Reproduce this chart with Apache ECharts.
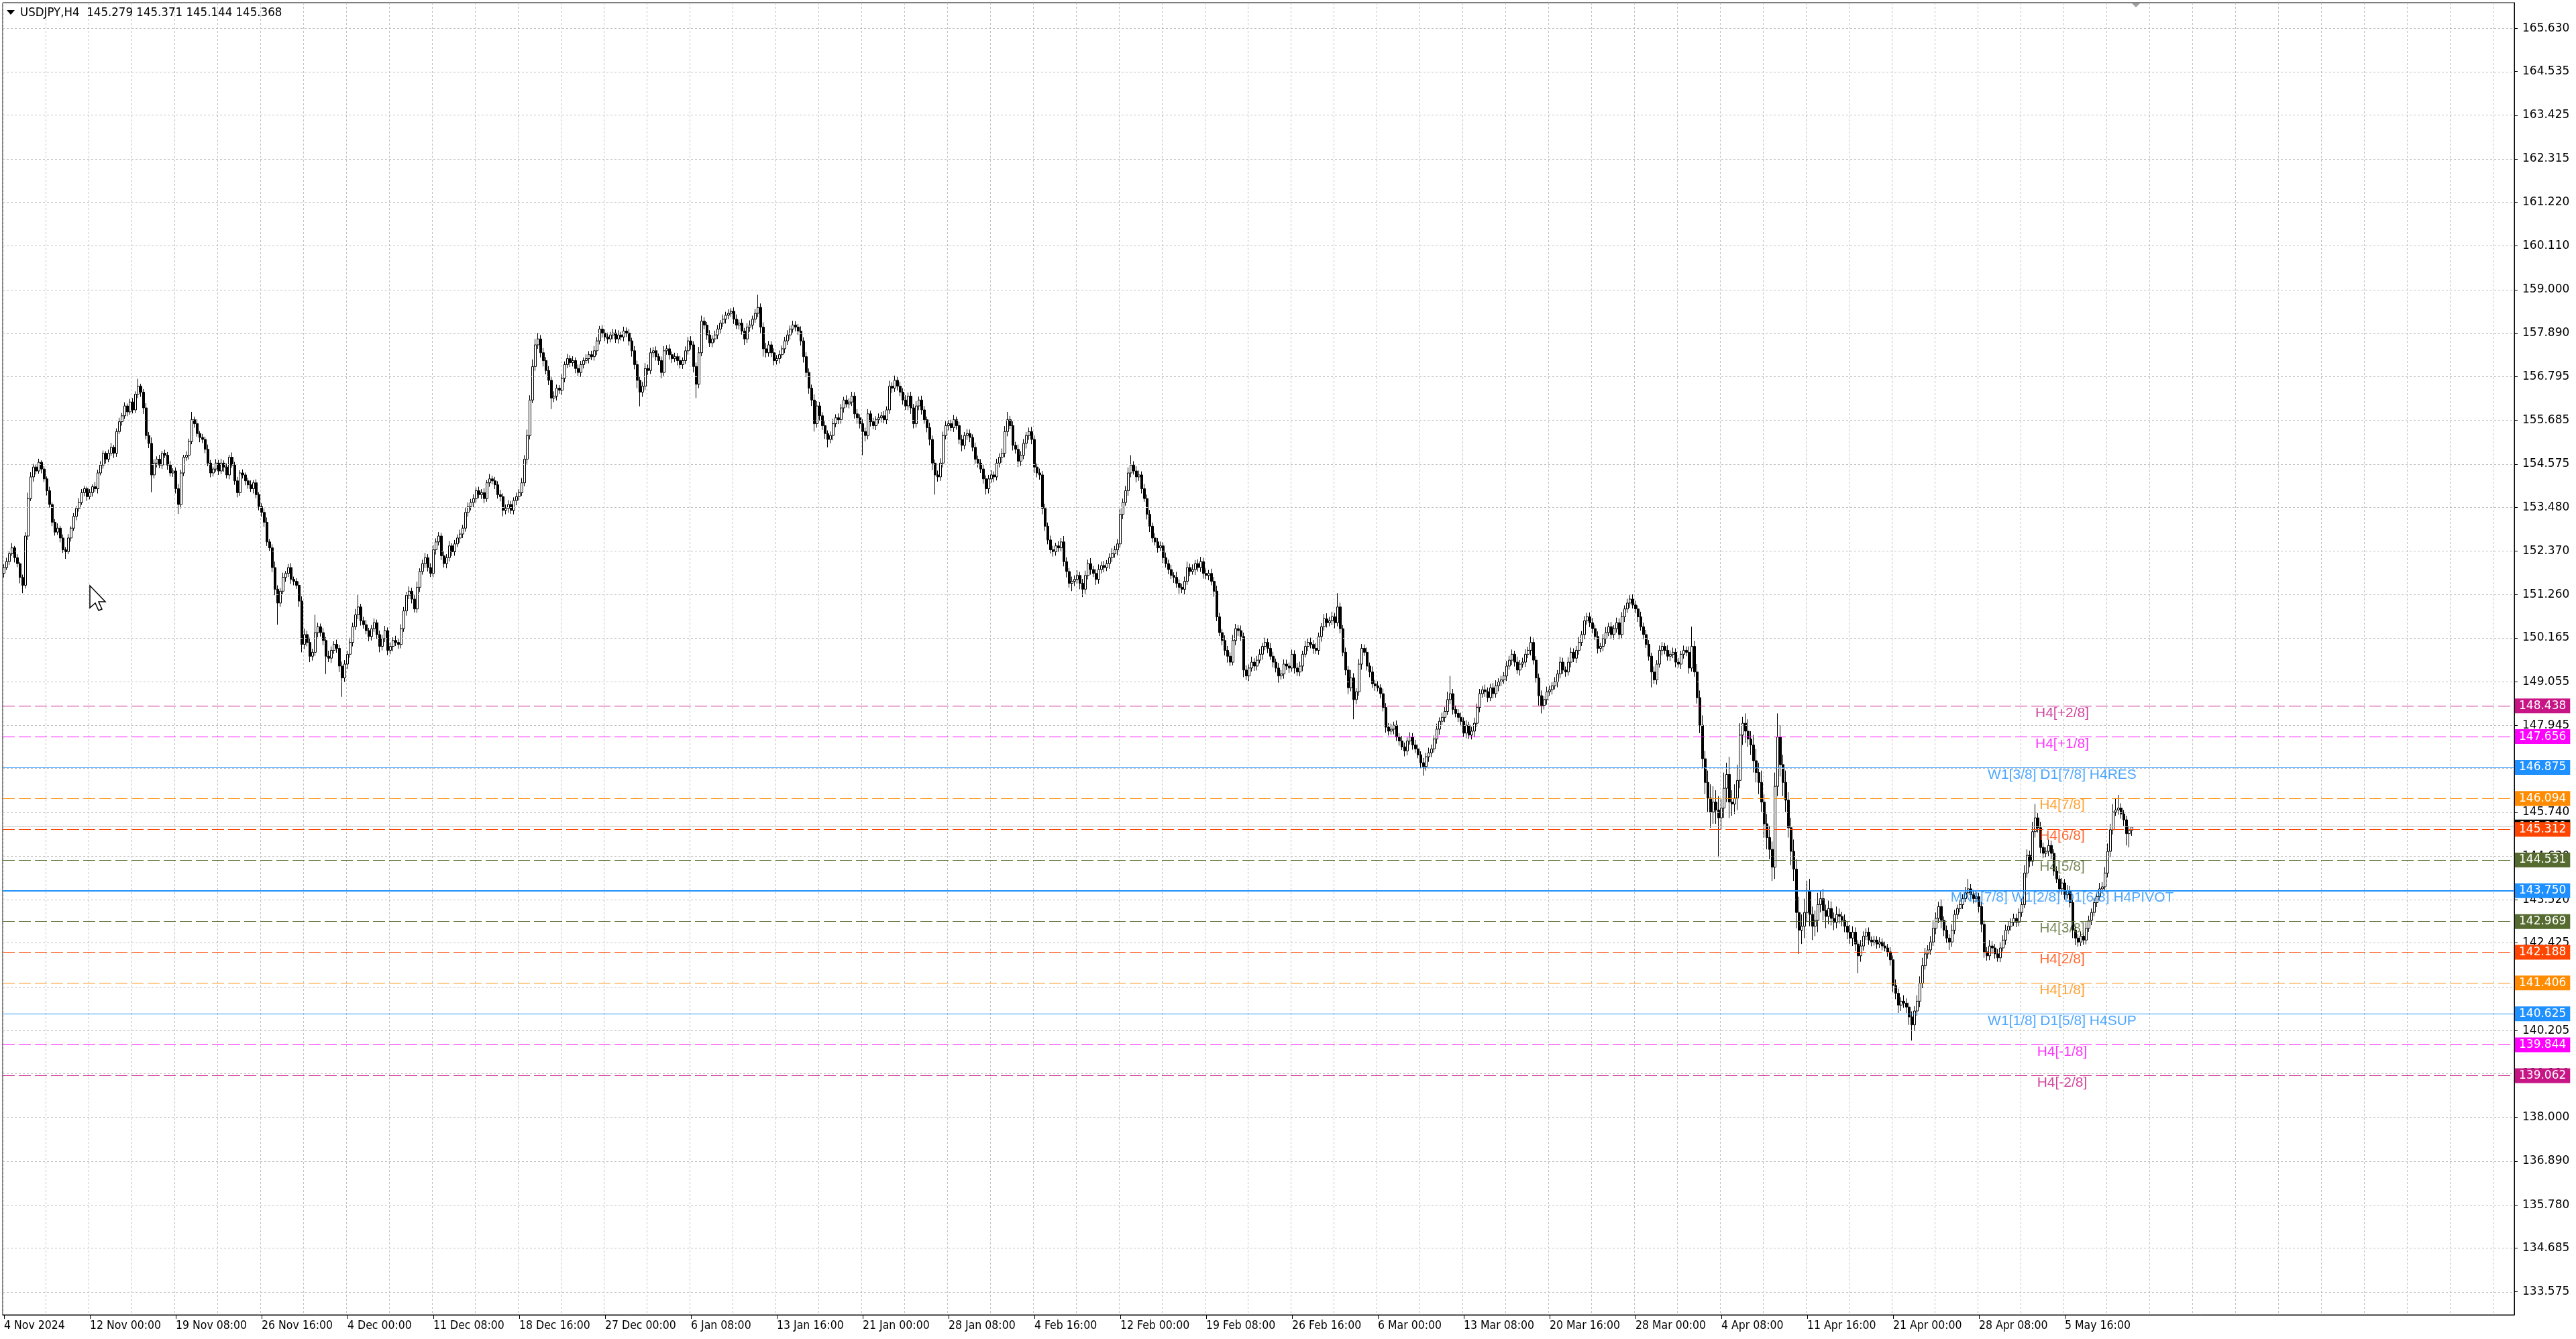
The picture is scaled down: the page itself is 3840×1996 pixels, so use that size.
<!DOCTYPE html>
<html><head><meta charset="utf-8">
<script src="https://cdn.jsdelivr.net/npm/echarts@6/dist/echarts.min.js"></script>
<style>html,body{margin:0;padding:0;background:#fff;}#c{width:3840px;height:1996px;}</style>
</head><body><div id="c"></div><script>
// ---------------- DATA ----------------
const symbolName = 'USDJPY';
const timeframe = 'H4';
const firstOpen = 151.80;
// H4 closes, one per bar (4 Nov 2024 ... 8 May 2025)
const closes = [
151.95,152.10,152.30,152.45,152.20,152.05,151.70,151.50,152.75,153.70,154.25,154.50,154.40,154.62,154.45,154.20,
153.90,153.55,153.10,152.85,152.95,152.70,152.40,152.35,152.70,152.95,153.25,153.45,153.60,153.85,153.95,153.75,
153.85,154.00,153.95,154.35,154.55,154.85,154.70,154.85,155.00,154.85,155.40,155.65,155.80,156.05,155.90,156.15,
155.95,156.35,156.55,156.40,156.00,155.30,155.10,154.30,154.60,154.70,154.55,154.85,154.80,154.55,154.35,154.40,
153.95,153.55,154.35,154.75,154.80,155.15,155.70,155.60,155.35,155.25,155.20,154.95,154.60,154.35,154.45,154.60,
154.40,154.60,154.50,154.30,154.75,154.55,154.15,153.85,154.35,154.30,154.15,154.05,153.95,154.10,153.80,153.50,
153.35,153.10,152.60,152.45,151.95,151.40,151.05,151.35,151.70,151.80,151.95,151.65,151.60,151.50,151.10,150.00,
150.25,150.05,149.70,149.80,150.30,150.45,150.30,150.10,149.70,149.65,149.85,150.00,149.90,149.45,149.15,149.50,
149.75,150.05,150.45,150.75,150.95,150.60,150.50,150.35,150.20,150.40,150.55,150.25,149.95,150.15,150.35,149.85,
149.95,150.10,150.05,150.00,150.40,150.85,151.25,151.35,151.15,150.90,151.45,151.85,152.05,152.20,151.95,151.80,
152.40,152.60,152.75,152.25,152.05,152.20,152.50,152.35,152.55,152.70,152.80,152.95,153.35,153.50,153.60,153.70,
153.90,153.80,153.85,153.70,154.10,154.20,154.15,154.05,153.80,153.75,153.40,153.45,153.55,153.40,153.65,153.75,
153.85,154.10,154.70,155.30,156.20,157.05,157.60,157.75,157.40,157.20,156.95,156.70,156.25,156.30,156.50,156.45,
156.75,157.10,157.25,157.15,157.20,157.00,156.90,157.10,157.20,157.25,157.35,157.30,157.45,157.70,158.00,157.90,
157.80,157.75,157.85,157.90,157.75,157.85,157.80,157.95,157.90,157.70,157.45,157.10,156.70,156.40,156.55,157.00,
156.95,157.40,157.45,157.30,157.20,156.90,157.45,157.50,157.35,157.25,157.30,157.20,157.10,157.20,157.45,157.70,
157.60,157.05,156.60,157.40,158.20,158.10,157.85,157.65,157.75,157.85,158.00,158.15,158.25,158.35,158.40,158.45,
158.25,158.10,158.15,157.95,157.75,158.05,158.10,158.25,158.40,158.55,158.05,157.50,157.40,157.60,157.40,157.20,
157.25,157.35,157.50,157.70,157.85,158.00,158.10,158.05,157.95,157.70,157.30,156.90,156.50,156.20,155.60,
156.05,155.80,155.55,155.35,155.20,155.30,155.60,155.75,155.70,156.00,156.20,156.10,156.15,156.30,155.85,155.75,
155.60,155.40,155.30,155.85,155.65,155.55,155.70,155.75,155.80,155.70,155.95,156.55,156.50,156.70,156.55,156.40,
156.20,156.05,156.30,156.00,155.60,156.05,156.20,155.95,155.70,155.50,155.20,154.60,154.30,154.25,154.60,155.30,
155.55,155.60,155.50,155.70,155.55,155.20,155.05,155.30,155.35,155.25,155.00,154.70,154.60,154.45,154.20,153.95,
154.20,154.30,154.25,154.60,154.75,154.85,155.40,155.70,155.55,155.05,154.95,154.65,154.80,155.10,155.30,155.40,
155.20,154.50,154.35,154.30,153.45,153.00,152.65,152.40,152.35,152.50,152.45,152.60,152.10,151.85,151.55,151.60,
151.65,151.75,151.55,151.40,151.75,152.05,151.90,151.80,151.65,151.90,152.00,151.95,152.05,152.20,152.30,152.40,
152.55,153.30,153.60,153.90,154.35,154.55,154.40,154.25,154.30,153.95,153.70,153.30,153.00,152.70,152.60,152.45,
152.50,152.20,152.05,151.90,151.75,151.70,151.55,151.45,151.40,151.60,151.95,151.85,151.90,152.05,151.95,152.10,
151.80,151.75,151.80,151.60,151.35,150.70,150.30,150.10,149.85,149.70,149.55,150.10,150.40,150.35,150.20,149.35,
149.20,149.40,149.55,149.45,149.60,149.75,149.95,150.05,149.90,149.70,149.55,149.40,149.20,149.25,149.50,149.45,
149.40,149.75,149.40,149.30,149.45,149.75,149.95,150.05,150.00,149.90,149.85,150.20,150.45,150.65,150.55,150.60,
150.70,150.55,150.95,150.40,149.80,149.35,148.90,149.15,148.60,148.80,149.50,149.90,149.80,149.45,149.30,149.00,
148.95,148.90,148.75,148.40,147.90,147.80,147.85,147.95,147.65,147.55,147.40,147.30,147.55,147.65,147.45,147.35,
147.20,147.00,146.90,147.15,147.25,147.35,147.60,147.85,148.05,148.15,148.30,148.60,148.75,148.35,148.25,148.15,
148.05,147.75,147.95,147.70,147.80,148.00,148.40,148.75,148.85,148.80,148.65,148.90,148.75,148.95,149.05,149.10,
149.20,149.45,149.60,149.75,149.55,149.35,149.50,149.55,149.75,149.85,150.05,149.60,149.15,148.70,148.45,148.60,
148.80,148.85,148.95,149.05,149.25,149.55,149.35,149.30,149.55,149.80,149.65,149.85,150.05,150.25,150.60,150.70,
150.55,150.40,150.20,149.90,149.95,150.15,150.30,150.45,150.25,150.40,150.55,150.25,150.70,150.90,151.05,
151.15,151.00,150.90,150.70,150.45,150.25,150.00,149.70,149.30,149.10,149.50,149.85,149.95,149.85,149.70,149.75,
149.80,149.55,149.50,149.75,149.85,149.80,149.40,149.95,149.30,148.65,147.95,147.10,146.50,146.10,145.75,146.00,
145.80,145.60,145.85,146.35,146.70,146.00,145.95,146.10,146.55,147.70,148.00,147.80,147.60,147.45,147.05,146.75,
146.50,146.00,145.45,145.10,144.80,144.35,146.40,147.65,146.95,146.50,146.05,145.35,144.75,144.30,143.20,142.75,
142.85,143.20,143.75,143.15,142.85,143.00,143.40,143.55,143.25,143.10,143.30,143.05,142.95,143.15,143.10,143.00,
142.85,142.70,142.55,142.70,142.40,142.10,142.35,142.60,142.70,142.50,142.45,142.50,142.40,142.45,142.35,142.30,
142.20,142.00,141.35,141.15,140.85,140.95,140.90,140.80,140.55,140.35,140.70,140.95,141.40,141.85,142.15,142.25,
142.45,142.80,143.05,143.35,143.00,142.75,142.55,142.45,142.75,143.15,143.30,143.40,143.55,143.70,143.80,143.65,
143.55,143.60,143.35,142.90,142.20,142.10,142.35,142.30,142.15,142.05,142.30,142.50,142.75,142.85,142.95,143.05,
142.95,143.20,143.40,144.20,144.65,144.50,145.25,145.60,145.35,144.85,144.70,144.75,144.90,144.70,144.25,144.05,
143.80,143.95,143.65,143.75,143.45,142.75,142.55,142.45,142.60,142.50,142.80,143.00,143.20,143.45,143.60,143.80,
143.85,144.20,144.75,145.30,145.75,145.80,145.85,145.70,145.55,145.20,145.279,145.368
];
// upper wick above the body, in hundredths of a yen
const upperWick = [
8,10,6,12,5,9,4,7,10,15,12,8,6,9,5,7,
6,10,5,8,12,6,9,7,10,5,8,6,11,9,7,5,
9,6,12,8,10,7,5,9,11,6,8,10,7,9,6,8,
10,7,19,6,8,12,9,15,10,7,11,6,9,8,10,7,
9,12,8,6,10,7,20,8,11,6,9,7,12,8,6,10,
8,11,7,9,6,12,8,10,7,9,6,8,11,7,9,6,
8,10,12,7,9,15,10,8,12,6,9,11,7,8,10,12,
15,10,12,9,45,10,8,12,9,14,10,8,12,9,11,10,
9,12,10,15,32,8,10,12,7,9,11,8,10,9,12,8,
10,8,12,9,11,10,8,12,9,10,14,8,10,12,9,11,
12,9,10,8,11,9,12,7,10,9,11,8,12,10,9,11,
8,10,9,11,7,12,8,10,9,12,8,10,11,9,8,10,
9,12,10,15,12,18,15,15,10,12,9,11,10,12,9,8,
10,8,12,9,11,8,10,9,8,11,9,10,12,9,8,10,
9,11,8,10,9,12,8,11,9,10,8,12,10,9,11,14,
10,12,9,11,8,10,12,9,11,8,10,9,12,8,11,10,
12,9,10,15,14,10,8,12,9,11,10,8,12,9,10,8,
10,12,9,11,8,10,12,9,11,32,10,12,15,10,9,11,
9,11,8,10,12,9,11,10,8,12,9,11,10,9,14,
12,10,9,11,8,10,12,9,11,10,8,12,9,11,10,12,
9,11,10,12,8,10,9,11,10,12,9,14,10,12,9,11,
10,12,9,11,10,12,9,11,10,8,12,10,9,11,12,10,
11,9,10,12,8,10,12,9,11,10,8,12,9,10,11,9,
10,12,9,11,10,12,14,20,10,11,9,12,10,11,9,10,
12,10,9,11,10,12,9,11,10,8,12,10,15,11,9,12,
10,13,9,11,12,10,14,9,11,13,10,12,9,11,14,10,
12,15,10,12,14,25,10,12,11,9,12,10,11,9,12,10,
11,9,13,10,12,8,14,10,9,12,15,10,13,9,11,12,
10,13,9,12,11,14,10,9,13,11,10,14,12,9,13,10,
12,9,14,10,11,13,9,12,10,14,11,9,13,10,12,11,
9,12,10,13,11,9,14,10,12,11,13,10,9,12,14,10,
13,10,35,11,9,12,10,20,12,9,13,11,10,12,9,14,
10,12,9,13,11,10,14,9,12,10,13,11,9,12,10,13,
11,9,12,10,13,11,9,14,10,12,11,20,45,12,10,11,
12,10,13,9,11,14,10,12,9,13,11,10,12,14,9,11,
10,13,11,12,9,14,10,11,13,9,15,12,10,11,13,9,
13,11,9,12,10,14,11,9,13,12,10,11,14,9,12,10,
11,12,10,13,9,11,14,10,12,9,13,11,12,9,11,
10,12,11,9,13,10,12,11,9,14,10,12,11,9,13,10,
12,10,11,9,12,10,15,50,14,20,18,25,20,30,35,40,
30,35,25,40,30,45,30,35,40,30,16,25,30,20,25,30,
25,30,20,25,30,20,35,60,30,25,30,20,25,30,25,40,
30,35,25,30,20,25,30,20,25,15,20,18,15,20,15,12,
15,12,18,15,12,10,15,12,10,12,9,11,10,12,9,11,
10,12,11,15,12,10,15,12,11,14,12,15,18,20,15,12,
15,20,15,12,18,10,12,10,15,12,10,12,11,15,25,12,
12,15,10,12,10,12,15,12,10,12,15,12,14,12,10,12,
12,10,15,20,15,12,25,35,12,15,12,10,15,12,10,12,
10,12,10,15,12,10,12,10,12,10,15,12,10,12,10,15,
12,15,20,15,20,30,33,12,10,10,12,0.3
];
// lower wick below the body, in hundredths of a yen
const lowerWick = [
10,6,8,5,12,9,15,20,8,10,6,12,9,7,11,8,
12,8,10,9,7,11,8,18,6,9,7,10,8,6,9,11,
7,10,8,12,6,9,11,8,7,12,9,6,10,8,11,7,
9,8,10,12,15,10,12,44,9,11,8,10,7,12,9,10,
12,24,10,8,9,11,7,10,8,12,9,10,8,11,9,7,
10,8,12,9,11,7,10,12,8,9,11,10,8,12,9,10,
11,12,10,9,12,15,55,10,8,11,9,12,10,9,15,20,
12,10,15,11,9,12,10,12,45,10,12,9,11,15,48,10,
12,9,10,8,11,12,10,9,12,10,8,11,15,10,9,12,
10,12,9,11,10,8,12,10,11,9,10,12,8,11,10,9,
10,12,9,11,10,12,9,11,10,8,12,10,9,11,10,12,
10,9,11,12,8,10,9,11,10,12,15,10,11,9,10,12,
10,8,9,12,10,8,11,10,12,15,10,12,28,10,11,9,
12,10,9,11,10,12,9,11,10,8,12,9,10,11,9,12,
10,12,9,11,10,12,9,11,10,12,15,12,20,36,12,10,
11,9,12,10,11,15,9,10,12,11,9,12,10,11,9,10,
12,15,35,10,9,11,12,10,11,9,10,12,9,11,10,9,
12,10,11,9,15,10,12,11,9,10,15,20,12,10,11,12,
10,12,9,11,10,12,9,11,10,12,15,12,14,15,20,
10,12,11,14,20,10,12,9,11,10,12,9,11,10,12,15,
12,60,15,10,12,9,11,10,12,9,11,10,12,9,11,10,
12,10,11,15,12,10,11,12,10,12,15,18,50,12,10,11,
10,12,9,11,10,12,15,10,11,12,10,12,11,10,12,15,
12,10,13,9,11,14,10,12,9,13,11,15,12,10,13,11,
12,15,11,12,15,12,11,9,12,10,11,9,12,15,11,20,
12,10,15,20,12,10,13,9,14,11,10,12,9,13,11,10,
14,9,12,8,13,11,9,14,10,12,8,13,15,11,9,12,
8,13,10,12,9,14,11,16,10,13,9,12,8,14,10,11,
13,9,12,10,14,11,9,12,13,16,10,8,12,14,11,18,
10,13,9,12,11,8,14,10,12,9,13,11,17,9,12,10,
12,9,14,10,11,13,8,12,10,14,9,11,13,10,12,9,
11,14,9,12,10,13,16,9,50,12,10,14,9,11,13,10,
13,9,12,10,14,11,9,13,10,12,8,14,11,9,12,10,
9,12,23,10,13,11,9,12,14,10,12,9,11,13,10,12,
12,9,13,10,11,14,9,12,10,13,11,9,12,10,14,11,
10,13,9,12,11,10,14,9,12,10,13,11,12,25,20,10,
13,10,12,9,14,11,10,12,9,13,10,12,11,9,12,10,
11,12,9,13,10,12,14,9,11,13,10,12,11,13,10,
12,9,11,13,10,12,9,11,39,10,12,9,13,10,11,12,
10,13,9,12,11,10,14,9,12,15,20,25,30,35,40,30,
35,100,30,25,35,40,30,25,30,20,25,30,20,25,30,25,
30,25,35,30,25,35,30,25,30,35,30,25,35,30,40,60,
35,30,25,30,35,25,30,20,25,30,20,18,20,15,18,15,
15,18,15,20,18,44,15,12,10,12,11,9,12,10,11,9,
12,15,18,15,20,15,12,15,20,40,15,12,15,12,10,12,
12,10,15,12,20,15,12,20,12,10,12,10,11,9,12,10,
12,10,15,20,15,12,11,15,12,10,11,9,12,10,11,9,
12,10,11,9,12,15,12,15,12,15,12,10,12,15,12,10,
12,15,12,10,12,20,18,12,10,12,11,9,12,10,11,9,
12,10,11,15,12,10,12,12,15,30,35,13.5
];
// time-scale labels, one every 32 bars
const xTickLabels = ['4 Nov 2024','12 Nov 00:00','19 Nov 08:00','26 Nov 16:00','4 Dec 00:00','11 Dec 08:00',
 '18 Dec 16:00','27 Dec 00:00','6 Jan 08:00','13 Jan 16:00','21 Jan 00:00','28 Jan 08:00','4 Feb 16:00',
 '12 Feb 00:00','19 Feb 08:00','26 Feb 16:00','6 Mar 00:00','13 Mar 08:00','20 Mar 16:00','28 Mar 00:00',
 '4 Apr 08:00','11 Apr 16:00','21 Apr 00:00','28 Apr 08:00','5 May 16:00'];
// price-scale labels
const yTicks = [165.630,164.535,163.425,162.315,161.220,160.110,159.000,157.890,156.795,155.685,154.575,153.480,
 152.370,151.260,150.165,149.055,147.945,146.850,145.740,144.630,143.520,142.425,141.315,140.205,139.110,
 138.000,136.890,135.780,134.685,133.575];
// Murrey math levels
const levelValues = [148.438,147.656,146.875,146.094,145.312,144.531,143.750,142.969,142.188,141.406,140.625,139.844,139.062];
const levelNames = ['H4[+2/8]','H4[+1/8]','W1[3/8] D1[7/8] H4RES','H4[7/8]','H4[6/8]','H4[5/8]',
 'MN1[7/8] W1[2/8] D1[6/8] H4PIVOT','H4[3/8]','H4[2/8]','H4[1/8]','W1[1/8] D1[5/8] H4SUP','H4[-1/8]','H4[-2/8]'];

// ---------------- STYLE / VIEW ----------------
const levelColors = ['#C71585','#FF00FF','#1E90FF','#FF8C00','#FF4500','#556B2F','#1E90FF','#556B2F','#FF4500','#FF8C00','#1E90FF','#FF00FF','#C71585'];
const levelDashed = [true,true,false,true,true,true,false,true,true,true,false,true,true];
const levelWidth  = [1,1,1,1,1,1,2,1,1,1,1,1,1];
const nSlots = 936;          // visible bar slots incl. empty right margin (4 px each)
const levelLabelBar = 767;   // bar at which the level names are anchored
const yMin = 132.992, yMax = 166.28;
const fCond = "'DejaVu Sans Condensed','DejaVu Sans',sans-serif";
const fAxis = "'DejaVu Sans',sans-serif";
const gridColor = '#c0c0c0';

// ---------------- BUILD ----------------
const ohlc = [];
let prev = firstOpen;
for (let i = 0; i < closes.length; i++) {
  const o = prev, c = closes[i];
  const hi = Math.max(o, c) + (upperWick[i] || 0) / 100;
  const lo = Math.min(o, c) - (lowerWick[i] || 0) / 100;
  ohlc.push([o, c, lo, hi]);
  prev = c;
}
const last = ohlc[ohlc.length - 1];
const titleText = symbolName + ',' + timeframe + '  ' + [last[0], last[3], last[2], last[1]].map(v => v.toFixed(3)).join(' ');
const bid = last[1];
const categories = Array.from({length: nSlots}, (_, i) => String(i));

const levelLines = [{
  yAxis: bid,
  lineStyle: {color: gridColor, type: 'solid', width: 1},
  label: {backgroundColor: '#000', formatter: bid.toFixed(3)}
}].concat(levelValues.map((v, i) => ({
  yAxis: v,
  lineStyle: {color: levelColors[i], type: levelDashed[i] ? [18, 6] : 'solid', width: levelWidth[i]},
  label: {backgroundColor: levelColors[i], formatter: v.toFixed(3)}
})));

const chart = echarts.init(document.getElementById('c'), null, {renderer: 'canvas', width: 3840, height: 1996});
chart.setOption({
  animation: false,
  backgroundColor: '#ffffff',
  grid: {left: 4, right: 92, top: 4, bottom: 36, show: true, borderColor: '#000', borderWidth: 1, backgroundColor: 'transparent'},
  xAxis: {
    type: 'category', data: categories, boundaryGap: true,
    axisLine: {show: true, lineStyle: {color: '#000', width: 1}},
    axisTick: {show: true, alignWithLabel: true, length: 6, lineStyle: {color: '#000'},
      interval: (i) => i % 32 === 0 && i / 32 < xTickLabels.length},
    axisLabel: {interval: (i) => i % 32 === 0 && i / 32 < xTickLabels.length,
      formatter: (v, i) => xTickLabels[i / 32] || '', align: 'left', margin: 7,
      color: '#000', fontFamily: fCond, fontSize: 17.5},
    splitLine: {show: true, interval: (i) => i % 16 === 0, lineStyle: {color: gridColor, type: [3, 3], width: 1}}
  },
  yAxis: {
    type: 'value', position: 'right', min: yMin, max: yMax, scale: true,
    axisLine: {show: true, lineStyle: {color: '#000', width: 1}},
    axisTick: {show: true, customValues: yTicks, length: 5, lineStyle: {color: '#000'}},
    axisLabel: {customValues: yTicks, formatter: (v) => Number(v).toFixed(3), margin: 12,
      color: '#000', fontFamily: fAxis, fontSize: 17},
    splitLine: {show: false}
  },
  title: {text: titleText, left: 30, top: 10, padding: 0,
    textStyle: {fontFamily: fCond, fontSize: 18.5, fontWeight: 'normal', color: '#000'}},
  graphic: [
    {type: 'polygon', shape: {points: [[10, 15], [22, 15], [16, 22]]}, style: {fill: '#000'}, z: 100},
    {type: 'polygon', shape: {points: [[3178, 5], [3190, 5], [3184, 11]]}, style: {fill: '#a0a0a0'}, z: 100},
    {type: 'polygon', shape: {points: [[134, 873], [134, 906], [142, 899], [147, 910], [152, 908], [147, 897], [157, 897]]},
      style: {fill: '#fff', stroke: '#000', lineWidth: 1.5}, z: 100}
  ],
  series: [
    {type: 'line', data: [], silent: true, z: 1,
      markLine: {silent: true, symbol: ['none', 'none'], animation: false, label: {show: false},
        emphasis: {disabled: true},
        lineStyle: {color: gridColor, type: [3, 3], width: 1},
        data: yTicks.map(v => ({yAxis: v}))}},
    {type: 'line', data: [], silent: true, z: 2,
      markLine: {silent: true, symbol: ['none', 'none'], animation: false, emphasis: {disabled: true},
        label: {show: true, position: 'end', distance: 1, color: '#fff', fontFamily: fAxis, fontSize: 17,
          padding: [3, 6, 2, 6]},
        data: levelLines}},
    {type: 'candlestick', data: ohlc, large: false, barWidth: 3, silent: true, z: 3,
      itemStyle: {color: '#ffffff', color0: '#000000', borderColor: '#000000', borderColor0: '#000000', borderWidth: 1}},
    {type: 'scatter', silent: true, z: 4, symbolSize: 0,
      data: levelValues.map((v, i) => ({value: [levelLabelBar, v], label: {color: levelColors[i]}})),
      label: {show: true, position: 'bottom', distance: 0, fontFamily: "'Liberation Sans',Arial,sans-serif",
        fontSize: 21, formatter: (p) => levelNames[p.dataIndex]}}
  ]
});
</script></body></html>
